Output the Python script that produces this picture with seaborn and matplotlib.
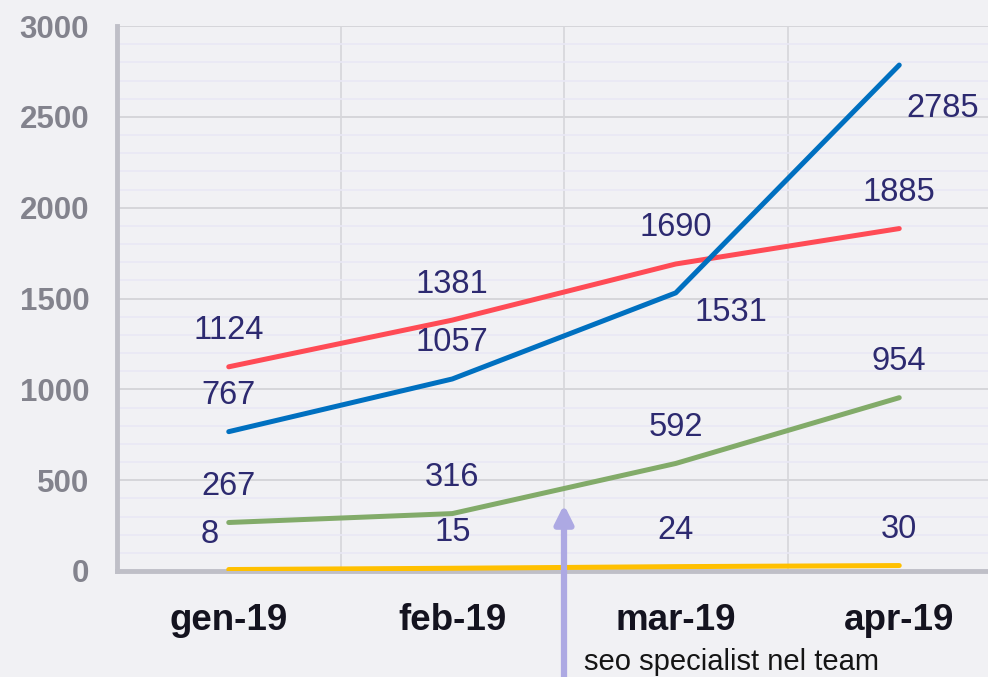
import numpy as np
import pandas as pd
import matplotlib
matplotlib.use("Agg")
import matplotlib.pyplot as plt
from matplotlib.ticker import MultipleLocator, FixedLocator
import seaborn as sns

# ---------------------------------------------------------------------------
# Dati
# ---------------------------------------------------------------------------
mesi = ["gen-19", "feb-19", "mar-19", "apr-19"]
serie_rossa = [1124, 1381, 1690, 1885]
serie_blu = [767, 1057, 1531, 2785]
serie_verde = [267, 316, 592, 954]
serie_gialla = [8, 15, 24, 30]

nomi_serie = ["rossa", "blu", "verde", "gialla"]
valori = [serie_rossa, serie_blu, serie_verde, serie_gialla]
colori = {"rossa": "#FF4B55", "blu": "#0070C0", "verde": "#82AB69", "gialla": "#FFC000"}

nota_testo = "seo specialist nel team"

df = pd.DataFrame({
    "x": np.tile(np.arange(len(mesi)), len(nomi_serie)),
    "valore": np.concatenate(valori),
    "serie": np.repeat(nomi_serie, len(mesi)),
})

# offset delle etichette (in punti) rispetto al punto
offset_default = (0, 26)
offset_speciali = {("blu", 2): (40, -14), ("blu", 3): (31, -31), ("gialla", 0): (-14, 25)}

# ---------------------------------------------------------------------------
# Stile
# ---------------------------------------------------------------------------
BG = "#F1F1F4"
sns.set_theme(style="white")
plt.rcParams["font.family"] = ["Liberation Sans", "DejaVu Sans"]

fig = plt.figure(figsize=(9.88, 6.77), dpi=100, facecolor=BG)
ax = fig.add_axes([117 / 988, 106 / 677, 894 / 988, 545 / 677])
ax.set_facecolor(BG)

# griglie
ax.set_ylim(0, 3000)
ax.set_xlim(-0.5, 3.5)
ax.yaxis.set_major_locator(MultipleLocator(500))
ax.yaxis.set_minor_locator(MultipleLocator(100))
ax.grid(which="minor", axis="y", color="#E9E8F5", linewidth=1.2, zorder=0)
ax.grid(which="major", axis="y", color="#D6D6DA", linewidth=1.4, zorder=0)
for xb in np.arange(-0.5, 4, 1.0):
    ax.axvline(xb, color="#D6D6DA", linewidth=1.2, zorder=0)

sns.lineplot(data=df, x="x", y="valore", hue="serie", palette=colori,
             linewidth=3.6, legend=False, ax=ax, zorder=3,
             solid_capstyle="round")

# etichette dei dati
for nome, vals in zip(nomi_serie, valori):
    for i, v in enumerate(vals):
        dx, dy = offset_speciali.get((nome, i), offset_default)
        ax.annotate(f"{v}", (i, v), xytext=(dx, dy), textcoords="offset points",
                    ha="center", va="center", fontsize=23.5, color="#2D2A70", zorder=4)

# assi
for s in ["top", "right"]:
    ax.spines[s].set_visible(False)
for s in ["left", "bottom"]:
    ax.spines[s].set_color("#BFBFC7")
    ax.spines[s].set_linewidth(3.5)
ax.spines["bottom"].set_zorder(2)

ax.xaxis.set_major_locator(FixedLocator(np.arange(-0.5, 4, 1.0)))
ax.xaxis.set_minor_locator(FixedLocator(np.arange(len(mesi))))
ax.set_xticklabels([], minor=False)
ax.set_xticklabels(mesi, minor=True, fontsize=26.5, fontweight="bold", color="#14131F")
ax.tick_params(axis="x", which="major", length=7, width=3.5, color="#BFBFC7", direction="out")
ax.tick_params(axis="x", which="minor", length=0, pad=23)
ax.tick_params(axis="y", which="both", length=0, pad=20, labelsize=22.5, labelcolor="#83838D")
for lab in ax.get_yticklabels():
    lab.set_fontweight("bold")
ax.set_xlabel("")
ax.set_ylabel("")

# freccia di annotazione (tra feb e mar)
ax.annotate("", xy=(1.5, 365), xytext=(1.5, -620), xycoords="data",
            arrowprops=dict(arrowstyle="-|>,head_width=0.45,head_length=0.9",
                            color="#ADA9E3", linewidth=4.5, shrinkA=0, shrinkB=0),
            annotation_clip=False, zorder=5)
ax.text(1.59, -500, nota_testo, fontsize=21, color="#151515",
        ha="left", va="center", clip_on=False)

fig.savefig("out.png", dpi=100, facecolor=BG)
